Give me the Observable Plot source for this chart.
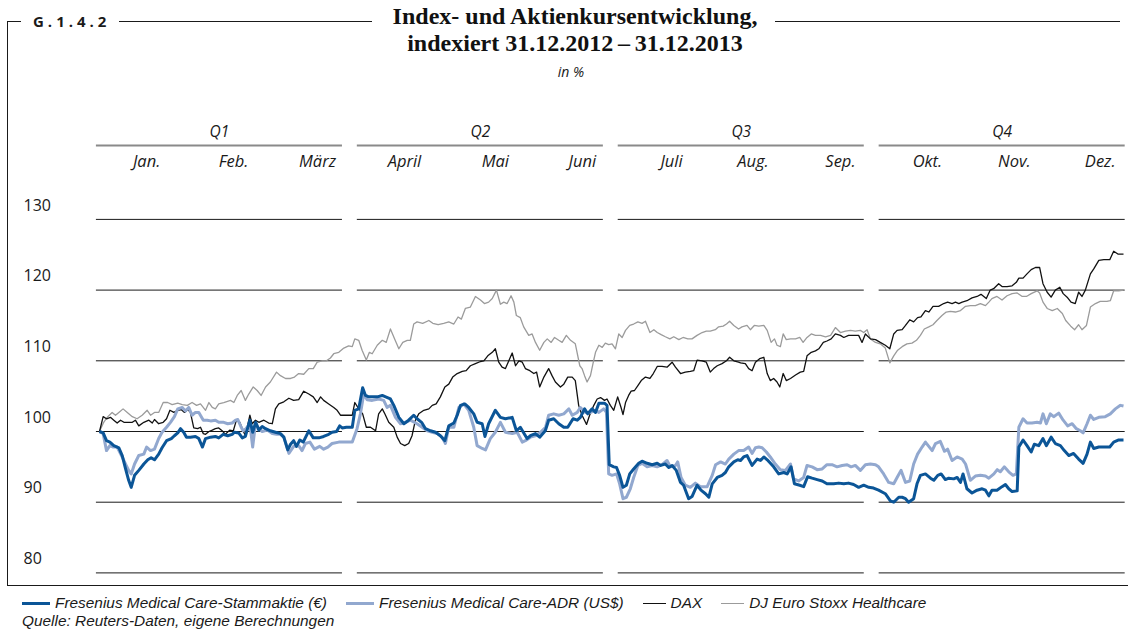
<!DOCTYPE html>
<html><head><meta charset="utf-8">
<script src="https://cdn.jsdelivr.net/npm/d3@7"></script>
<script src="https://cdn.jsdelivr.net/npm/@observablehq/plot@0.6"></script>
<style>
body{margin:0;background:#fff;}
#wrap{position:relative;width:1128px;height:630px;overflow:hidden;background:#fff;font-family:'Open Sans',sans-serif;color:#1a1a1a;}
.hl{position:absolute;height:0;border-top:1px solid #1a1a1a;}
#glabel{position:absolute;left:33px;top:11px;font-family:'Open Sans',sans-serif;font-weight:700;font-size:15px;line-height:20px;letter-spacing:4px;color:#1a1a1a;}
#title{position:absolute;left:325px;width:500px;top:3px;text-align:center;font-family:'Liberation Serif',serif;font-weight:700;font-size:24px;line-height:27px;color:#111;}
#unit{position:absolute;left:471px;width:200px;top:62px;text-align:center;font-style:italic;font-size:14px;line-height:20px;}
#chart{position:absolute;left:0;top:110px;}
#legend{position:absolute;left:22px;top:594px;height:18px;display:flex;align-items:center;font-family:'Liberation Sans',Arial,sans-serif;font-style:italic;font-size:15.4px;line-height:18px;white-space:nowrap;}
#legend .item{display:flex;align-items:center;margin-right:19px;}
#legend .sw{display:inline-block;width:28px;height:0;margin-right:5px;}
#source{position:absolute;left:22px;top:612px;font-family:'Liberation Sans',Arial,sans-serif;font-style:italic;font-size:15.4px;line-height:18px;white-space:nowrap;}
</style></head><body>
<div id="wrap">
 <div class="hl" style="left:7px;top:21px;width:14px"></div>
 <div id="glabel">G.1.4.2</div>
 <div class="hl" style="left:119px;top:21px;width:253px"></div>
 <div class="hl" style="left:775px;top:21px;width:345px"></div>
 <div style="position:absolute;left:7px;top:21px;height:564px;border-left:1px solid #1a1a1a"></div>
 <div class="hl" style="left:7px;top:585px;width:1121px"></div>
 <div id="title">Index- und Aktienkursentwicklung,<br>indexiert 31.12.2012&#8201;–&#8201;31.12.2013</div>
 <div id="unit">in %</div>
 <div id="chart"></div>
 <div id="legend"></div>
 <div id="source">Quelle: Reuters-Daten, eigene Berechnungen</div>
</div>
<script>
// Quarter header & month labels (positions in days of 2013 on the chart's day axis)
const quarters = ["Q1", "Q2", "Q3", "Q4"];
const quarterStart = [-1.1, 91.9, 184.9, 277.9];
const quarterEnd = [86.6, 179.6, 272.6, 365.6];
const months = ["Jan.", "Feb.", "März", "April", "Mai", "Juni", "Juli", "Aug.", "Sep.", "Okt.", "Nov.", "Dez."];
const monthDay = [16.8, 47.8, 77.7, 108.7, 141.1, 172.1, 203.9, 232.9, 264.1, 295.1, 326.1, 356.7];
const yTicks = [130, 120, 110, 100, 90, 80];

const seriesNames = ["Fresenius Medical Care-Stammaktie (€)", "Fresenius Medical Care-ADR (US$)", "DAX", "DJ Euro Stoxx Healthcare"];
const seriesColors = ["#0b5597", "#92a8cf", "#111111", "#9b9b9b"];
const seriesWidths = [3, 3, 1.3, 1.3];

// [day, index value]
const fmeStamm = [[0,100],[1.3,99.8],[2.5,98.7],[3.7,98.5],[5.1,98.0],[6.9,97.7],[8.1,96.6],[9.3,94.7],[10.4,93.1],[11.3,92.1],[12.5,93.8],[14.0,94.5],[15.8,95.4],[17.2,96.0],[18.4,96.3],[19.6,96.0],[21.1,96.8],[22.3,97.7],[23.9,98.7],[25.6,99.0],[26.7,99.4],[27.9,99.8],[28.9,100.4],[30.0,99.9],[31.0,99.2],[32.4,99.2],[34.2,99.3],[35.4,99.0],[36.7,97.8],[37.8,99.0],[39.6,99.2],[41.3,99.3],[42.5,99.1],[44.1,99.6],[45.7,99.4],[47.3,99.6],[48.1,99.9],[49.6,99.8],[50.9,99.1],[52.0,99.3],[53.6,101.6],[54.6,99.9],[55.7,101.3],[56.8,100.2],[58.0,100.7],[59.2,100.4],[60.9,100.1],[62.7,99.9],[64.5,99.7],[65.7,99.2],[67.1,97.4],[68.1,98.2],[69.2,98.7],[70.2,97.9],[71.4,98.8],[72.6,98.5],[74.6,100.1],[76.2,99.1],[78.2,99.1],[79.9,99.3],[81.7,99.6],[82.9,99.9],[84.5,100.0],[85.6,100.8],[86.5,100.5],[88.0,100.6],[90.1,100.6],[91.0,103.0],[92.4,103.2],[93.8,106.2],[94.8,105.1],[96.0,104.9],[99.0,104.9],[100.8,105.1],[102.0,104.9],[103.7,104.6],[104.9,103.7],[106.7,102.0],[108.5,101.1],[110.2,101.6],[112.0,102.3],[113.2,101.8],[114.8,101.3],[116.2,100.4],[118.0,100.1],[119.8,99.9],[121.5,99.4],[123.1,98.7],[124.5,100.8],[126.3,101.2],[127.5,102.3],[128.7,103.7],[130.2,103.9],[131.6,103.4],[133.4,102.5],[134.6,101.3],[136.4,101.1],[137.4,99.3],[138.7,101.1],[141.1,103.0],[142.9,102.0],[144.7,101.8],[147.1,102.0],[148.6,100.1],[150.0,100.6],[152.4,99.0],[153.6,99.4],[155.4,99.7],[156.9,99.2],[158.9,100.1],[160.1,101.6],[161.9,101.8],[163.7,101.1],[165.5,100.6],[166.9,100.6],[168.8,101.8],[170.3,101.6],[171.4,102.0],[172.9,103.2],[174.0,102.5],[175.6,103.2],[176.8,102.7],[178.0,104.0],[180.0,104.0],[180.9,103.7],[181.7,95.3],[183.3,95.0],[184.3,94.9],[185.4,93.8],[186.6,92.1],[187.8,92.4],[189.0,94.0],[190.4,94.7],[192.2,95.5],[193.4,95.8],[195.2,95.5],[197.0,95.3],[198.8,95.5],[200.0,95.2],[201.7,95.4],[202.9,94.9],[204.1,95.2],[205.6,94.5],[207.1,92.8],[208.2,92.4],[210.0,90.5],[211.2,90.8],[213.0,92.4],[214.4,91.7],[216.0,91.2],[217.2,90.7],[218.4,92.6],[220.2,93.5],[221.9,93.8],[223.1,94.2],[224.3,95.0],[226.1,95.7],[227.5,96.0],[228.5,95.9],[229.6,96.4],[230.8,96.6],[232.6,95.2],[234.4,96.1],[235.6,95.9],[236.8,96.4],[238.0,96.0],[240.3,95.0],[242.1,94.0],[243.9,94.2],[245.1,94.0],[246.5,95.0],[247.7,92.6],[249.6,92.4],[251.0,92.2],[252.4,93.6],[254.0,93.4],[255.8,93.2],[257.6,93.0],[259.3,92.6],[261.7,92.6],[263.5,92.7],[265.3,92.6],[267.0,92.7],[268.8,92.5],[270.6,92.1],[272.4,92.4],[274.2,92.1],[275.9,92.0],[277.7,91.7],[280.1,91.2],[281.9,90.2],[283.1,90.0],[284.9,90.7],[286.1,90.7],[287.3,90.5],[288.4,90.0],[290.2,90.5],[291.4,92.6],[292.6,93.8],[294.4,94.0],[296.2,93.4],[297.4,93.1],[298.8,93.8],[300.0,94.0],[301.5,93.2],[302.7,93.4],[304.5,93.3],[305.7,93.5],[306.9,92.8],[307.8,94.0],[309.2,91.9],[311.0,91.3],[312.8,91.7],[314.6,91.9],[315.8,91.7],[317.0,90.9],[318.1,91.7],[319.9,91.7],[321.7,92.2],[322.9,92.5],[324.1,91.9],[325.3,91.5],[327.1,91.6],[327.7,97.8],[329.2,98.8],[330.6,98.0],[332.1,97.1],[333.2,98.2],[334.8,98.0],[336.3,99.0],[337.5,98.0],[339.2,99.2],[340.7,98.3],[342.5,98.0],[343.9,97.3],[345.5,96.6],[347.2,96.9],[349.0,96.1],[350.6,95.5],[352.0,96.8],[353.2,98.5],[354.4,97.6],[356.2,97.8],[358.0,97.8],[360.1,97.8],[361.5,98.5],[363.3,98.8],[365,98.8]];

const fmeAdr = [[0,100],[1.3,99.7],[2.5,97.3],[3.7,98.0],[4.9,97.8],[6.3,97.8],[8.1,96.4],[9.3,95.4],[10.4,94.5],[11.3,94.0],[12.5,95.4],[14.0,96.6],[15.8,96.8],[16.8,97.8],[18.2,97.3],[19.6,97.5],[21.1,99.0],[22.3,99.9],[23.9,100.6],[25.3,101.3],[26.7,102.1],[27.9,103.2],[29.5,103.4],[30.6,102.9],[31.8,103.4],[33.0,102.3],[34.2,102.7],[35.4,102.7],[37.0,101.6],[38.4,101.6],[39.6,101.5],[41.3,101.6],[42.5,101.3],[44.3,101.3],[45.7,101.1],[47.3,101.2],[48.5,101.6],[49.3,101.7],[50.5,100.6],[51.2,100.1],[52.0,100.3],[53.6,101.1],[54.6,97.8],[55.6,101.1],[56.8,100.4],[58.0,100.0],[59.8,100.2],[61.6,99.7],[63.1,99.6],[64.5,99.6],[65.7,99.2],[67.5,96.9],[69.2,97.9],[71.0,98.0],[72.2,97.3],[73.4,98.3],[75.0,98.5],[76.6,97.5],[78.5,97.9],[79.9,97.5],[81.4,97.8],[82.9,98.3],[85.3,98.5],[87.7,98.5],[90.1,98.5],[91.8,100.4],[93.0,102.5],[94.2,105.3],[95.4,104.5],[97.2,104.4],[99.5,104.6],[101.3,104.4],[102.5,103.4],[103.7,103.7],[105.5,102.0],[107.3,101.1],[109.1,101.3],[110.8,101.6],[113.2,101.1],[115.0,100.6],[116.8,100.1],[118.6,99.9],[120.4,99.7],[122.1,99.2],[123.3,98.3],[124.5,100.6],[126.3,100.6],[128.1,103.4],[129.8,103.9],[131.6,103.0],[133.4,100.6],[134.6,98.0],[136.4,97.6],[137.6,97.4],[139.3,99.0],[141.1,99.9],[142.9,101.3],[144.7,99.9],[147.1,99.7],[148.9,99.9],[150.7,98.5],[151.8,98.7],[153.6,99.2],[155.4,99.4],[157.2,99.9],[159.0,100.6],[160.1,102.3],[161.9,102.5],[163.7,102.3],[165.5,102.5],[167.3,103.2],[168.5,102.3],[170.3,102.7],[171.4,103.4],[173.2,102.7],[175.0,102.7],[176.8,103.0],[178.0,102.7],[179.7,103.2],[180.7,102.7],[181.5,94.0],[182.7,93.8],[184.3,94.0],[185.4,92.6],[186.6,90.5],[187.8,90.7],[189.2,91.9],[190.4,93.5],[191.9,95.2],[193.4,95.5],[195.2,95.0],[197.0,95.2],[198.8,95.0],[200.5,95.3],[202.3,95.9],[203.5,95.0],[205.3,95.2],[206.1,95.7],[207.3,93.5],[208.8,92.4],[210.6,92.1],[212.4,92.7],[214.2,92.2],[216.6,92.2],[218.4,93.8],[219.6,95.3],[221.4,95.7],[223.1,95.4],[224.3,96.1],[226.1,96.8],[227.8,97.3],[229.6,97.3],[231.4,97.8],[232.6,96.9],[233.8,97.7],[235.0,97.8],[236.2,97.7],[237.7,97.1],[239.1,96.4],[240.9,95.4],[242.7,94.6],[244.5,94.5],[246.3,95.4],[247.4,93.3],[249.2,93.0],[251.0,93.5],[252.2,95.2],[254.0,95.0],[255.8,94.6],[257.6,94.7],[259.3,95.3],[261.1,95.3],[262.9,95.0],[264.7,95.2],[266.5,95.3],[267.9,95.0],[269.4,95.2],[271.2,94.5],[273.0,95.3],[274.8,95.4],[276.6,95.3],[277.7,95.0],[279.5,94.0],[281.3,92.8],[283.1,92.6],[284.3,93.5],[285.7,94.5],[287.3,92.8],[288.8,93.0],[290.2,95.4],[291.6,96.8],[293.2,97.8],[294.4,98.5],[295.6,97.9],[296.8,97.3],[298.0,98.3],[299.7,98.6],[301.2,97.2],[302.3,97.5],[303.9,95.9],[305.7,96.4],[307.5,96.1],[308.7,95.4],[310.4,93.1],[312.2,93.7],[314.0,93.8],[315.8,93.7],[317.0,93.4],[318.8,94.0],[320.0,94.6],[321.1,94.3],[322.5,95.0],[324.1,94.3],[325.6,93.8],[326.8,94.0],[327.7,100.6],[329.2,101.8],[330.6,101.2],[332.4,101.2],[334.2,101.3],[335.4,101.2],[336.3,102.5],[337.5,101.1],[338.9,102.5],[340.1,102.1],[341.9,102.6],[343.5,101.6],[345.1,100.8],[346.7,101.1],[348.2,100.4],[349.6,100.1],[350.6,99.8],[352.0,101.1],[353.2,102.3],[354.4,101.7],[356.2,102.0],[358.5,102.1],[360.3,102.5],[362.1,103.2],[363.9,103.7],[365,103.6]];

const dax = [[0,100],[1.3,102.1],[2.5,101.8],[3.9,102.0],[5.1,101.6],[6.3,101.2],[7.5,101.6],[8.7,101.3],[11.7,101.3],[12.8,101.6],[14.0,100.8],[15.8,101.3],[17.6,101.6],[18.8,101.2],[19.6,101.7],[21.1,101.1],[22.7,101.3],[23.9,101.8],[25.1,103.0],[26.5,102.7],[27.9,103.0],[29.1,103.1],[30.3,102.7],[31.5,103.1],[32.4,102.7],[33.0,101.6],[33.6,100.5],[35.0,100.4],[36.0,100.6],[37.0,99.7],[37.8,99.6],[39.0,100.0],[40.2,100.2],[41.3,100.4],[42.5,100.5],[43.7,100.1],[44.9,99.6],[46.4,100.2],[47.7,100.1],[48.8,101.6],[50.0,101.3],[51.2,100.1],[52.0,99.4],[53.6,102.3],[54.4,101.1],[55.6,101.6],[56.8,101.3],[58.6,101.6],[60.3,101.2],[61.6,101.1],[62.7,103.2],[63.9,103.9],[65.7,104.2],[67.5,104.7],[69.2,104.4],[71.0,104.5],[72.8,105.7],[74.6,105.3],[76.2,104.9],[77.6,104.1],[78.8,104.9],[79.9,104.4],[81.7,103.9],[83.5,103.4],[84.7,103.0],[85.9,102.3],[87.7,102.3],[90.1,102.3],[91.0,104.1],[92.4,103.2],[93.8,102.5],[95.1,100.6],[96.6,100.6],[98.4,100.1],[99.5,102.5],[100.8,103.2],[101.7,102.5],[103.1,101.3],[104.9,100.6],[106.1,99.2],[107.3,98.3],[108.8,98.0],[110.2,98.3],[111.4,99.4],[112.6,101.6],[113.8,102.5],[115.6,103.0],[117.4,103.2],[118.6,103.7],[120.0,103.9],[121.5,104.9],[123.1,106.3],[124.5,106.7],[125.9,107.7],[127.5,108.2],[129.3,108.5],[130.7,108.6],[132.2,109.3],[134.0,109.6],[135.8,109.9],[137.0,110.0],[138.4,110.7],[140.0,111.2],[141.1,111.7],[142.3,109.8],[143.5,109.1],[144.7,108.9],[145.9,110.0],[147.1,111.1],[148.3,109.3],[149.5,110.0],[150.7,109.8],[151.8,108.9],[153.4,108.6],[154.8,108.2],[155.8,108.4],[156.9,106.3],[158.4,107.7],[160.1,108.9],[161.3,107.9],[162.5,107.0],[164.3,106.3],[165.5,106.7],[166.9,107.7],[168.5,107.7],[169.6,107.2],[170.8,103.7],[172.0,102.3],[173.6,101.0],[174.7,102.3],[176.2,103.7],[177.4,104.6],[178.6,104.8],[180.0,104.4],[180.9,104.6],[182.1,103.7],[183.3,103.0],[184.7,104.9],[185.9,103.4],[186.6,102.4],[187.5,104.1],[188.6,105.1],[189.5,105.7],[190.7,105.8],[191.9,106.5],[193.1,107.2],[194.6,107.7],[196.2,107.5],[197.4,108.2],[198.8,109.2],[200.5,109.2],[202.3,109.1],[204.1,109.8],[205.3,109.1],[207.1,108.2],[208.8,108.4],[210.6,108.5],[211.8,108.6],[213.0,110.1],[214.8,110.0],[216.3,109.8],[217.7,108.4],[218.9,108.9],[220.2,109.3],[221.9,109.6],[223.5,110.0],[224.6,110.5],[226.1,110.0],[227.8,109.8],[228.5,109.7],[230.2,109.6],[231.4,108.9],[232.6,108.6],[233.8,109.8],[235.3,110.3],[236.8,110.5],[238.0,108.2],[239.1,107.2],[240.3,107.5],[241.5,107.0],[242.5,106.3],[243.7,108.2],[244.8,107.2],[246.3,107.5],[248.1,108.0],[249.8,108.4],[251.0,108.5],[252.2,110.7],[253.7,111.2],[255.2,111.4],[256.4,111.7],[258.0,112.6],[259.3,112.8],[260.8,113.1],[262.3,113.8],[264.1,113.6],[265.3,113.3],[267.0,113.6],[268.8,113.6],[270.6,113.6],[271.8,112.6],[273.0,113.8],[274.8,113.1],[276.6,113.0],[278.3,112.6],[280.1,112.2],[281.7,111.7],[283.1,113.8],[284.3,114.3],[286.1,114.4],[287.3,115.0],[288.8,115.8],[290.2,115.5],[291.6,116.1],[292.8,116.2],[294.4,117.1],[295.6,116.9],[297.1,117.7],[299.1,117.7],[300.9,118.1],[302.3,118.3],[303.9,118.1],[305.1,118.3],[306.3,118.1],[307.5,118.3],[309.2,118.5],[311.0,118.9],[312.8,119.1],[314.2,119.4],[316.1,118.8],[317.5,120.0],[318.7,120.2],[320.5,120.9],[321.7,120.5],[323.5,120.5],[325.3,120.6],[326.8,121.1],[327.7,121.7],[329.2,121.7],[330.6,122.3],[332.1,122.9],[333.6,123.2],[335.1,123.2],[336.3,120.9],[337.8,119.7],[339.2,119.0],[340.7,120.0],[342.3,120.4],[343.5,119.5],[344.9,119.0],[346.3,118.3],[347.8,118.1],[349.0,119.7],[350.2,119.1],[351.4,120.0],[353.2,122.3],[354.4,123.0],[356.2,124.2],[358.0,124.3],[360.1,124.3],[361.5,125.5],[363.0,125.1],[365,125.1]];

const stoxx = [[0,100],[1.5,101.3],[2.7,102.0],[4.5,102.7],[5.7,102.3],[6.9,102.7],[8.4,103.2],[9.9,102.7],[11.7,102.1],[13.4,101.8],[15.2,102.3],[17.0,103.0],[18.2,102.3],[19.6,102.7],[21.1,102.7],[22.7,104.1],[24.3,104.1],[25.9,103.8],[27.9,104.0],[29.5,103.8],[31.3,103.7],[33.0,104.1],[34.6,103.7],[36.0,103.9],[37.8,103.0],[39.0,104.1],[40.2,103.4],[41.3,103.2],[42.5,103.9],[44.3,104.1],[46.7,104.4],[47.9,104.1],[49.1,105.1],[50.5,105.8],[52.0,104.4],[53.2,105.3],[54.8,106.3],[56.2,105.8],[57.6,105.1],[59.2,106.3],[60.9,107.0],[63.1,108.4],[64.5,107.9],[66.3,107.5],[68.1,107.5],[69.5,107.7],[71.0,108.2],[72.8,108.1],[74.6,108.9],[76.2,108.9],[77.6,109.8],[79.4,110.0],[80.9,110.0],[82.3,110.4],[83.5,111.0],[85.3,111.2],[87.1,111.8],[88.8,112.1],[90.1,112.0],[91.0,113.1],[92.4,112.9],[93.6,111.5],[95.1,110.1],[96.2,111.2],[97.2,111.0],[99.0,112.2],[100.8,112.9],[102.2,112.6],[103.7,114.5],[105.2,113.1],[106.7,111.7],[108.1,112.6],[109.7,112.9],[110.8,112.9],[112.0,115.2],[113.2,115.5],[115.2,115.3],[117.4,115.7],[118.8,115.3],[120.7,115.1],[122.7,115.3],[124.5,115.5],[126.3,115.2],[127.8,116.2],[129.0,115.9],[130.4,117.4],[132.2,117.6],[134.0,119.1],[135.8,118.6],[137.2,118.1],[138.7,118.3],[140.0,118.8],[141.5,120.0],[142.9,118.0],[144.1,118.3],[145.3,118.1],[146.7,119.2],[147.7,118.3],[148.6,116.4],[150.0,116.1],[151.2,114.8],[153.0,113.6],[154.2,113.8],[155.4,112.6],[156.9,111.5],[158.4,112.6],[159.6,113.1],[161.0,112.6],[162.2,113.3],[163.7,112.9],[164.9,112.6],[166.4,113.6],[167.9,112.9],[169.6,112.4],[171.2,109.3],[172.0,108.9],[172.9,107.9],[173.8,107.0],[175.0,107.9],[175.9,109.6],[176.8,111.2],[178.0,112.2],[179.2,111.9],[180.3,112.5],[181.5,112.3],[182.7,112.4],[183.9,111.7],[185.1,113.8],[186.3,113.3],[187.5,114.3],[189.0,115.0],[190.4,115.2],[191.9,115.5],[193.4,115.3],[194.6,115.6],[196.2,114.0],[197.6,114.4],[198.8,114.0],[200.2,113.7],[201.7,113.4],[203.3,113.1],[204.7,113.4],[206.5,113.0],[208.0,113.3],[209.7,113.1],[211.2,113.1],[213.0,113.6],[214.8,114.0],[216.3,114.2],[217.7,114.2],[219.5,114.4],[220.7,114.8],[222.3,114.9],[223.5,115.2],[224.6,115.6],[226.1,115.0],[227.8,114.5],[229.0,114.8],[230.8,115.0],[232.0,114.4],[233.4,115.0],[235.0,114.9],[236.8,115.0],[238.0,114.3],[239.4,112.6],[240.6,113.1],[241.5,112.2],[242.7,112.0],[243.7,113.8],[244.8,113.0],[246.3,113.1],[248.1,113.1],[249.6,113.3],[250.8,112.6],[252.2,113.3],[253.7,113.8],[255.2,113.6],[257.0,113.6],[258.8,113.4],[260.6,113.6],[262.3,114.7],[264.1,114.0],[265.9,114.2],[267.7,114.3],[269.4,114.2],[271.2,114.3],[272.4,114.0],[273.6,114.4],[274.8,113.1],[276.6,112.6],[278.3,112.4],[280.1,111.8],[281.7,109.7],[283.1,110.7],[284.5,111.5],[286.1,112.0],[287.8,112.4],[289.6,112.5],[291.2,112.9],[292.6,113.6],[294.0,114.5],[295.6,114.8],[297.1,115.1],[298.5,115.7],[300.3,116.4],[301.8,116.9],[303.3,117.0],[305.1,116.9],[306.9,117.1],[308.7,117.7],[310.4,117.8],[312.2,117.8],[314.0,118.1],[315.8,117.8],[317.0,118.3],[318.1,118.8],[319.9,119.1],[321.7,118.6],[323.5,119.2],[325.3,119.5],[327.1,119.6],[328.9,119.1],[330.4,119.1],[332.1,119.5],[334.2,119.9],[335.1,119.6],[336.3,118.3],[337.8,117.4],[339.6,117.1],[341.4,117.4],[343.2,116.7],[344.4,115.7],[346.2,114.9],[347.6,114.4],[349.0,115.1],[350.2,114.4],[351.8,115.0],[353.2,117.6],[355.0,118.1],[356.7,118.4],[359.1,118.4],[360.3,118.5],[361.5,119.9],[363.3,119.9],[365,120.0]];

const seriesData = [fmeStamm, fmeAdr, dax, stoxx];

const gridRows = yTicks.flatMap(v => quarters.map((q, i) => ({v, x1: quarterStart[i], x2: quarterEnd[i]})));
const qRows = quarters.map((q, i) => ({q, x1: quarterStart[i], x2: quarterEnd[i], mid: (quarterStart[i] + quarterEnd[i]) / 2}));
const mRows = months.map((m, i) => ({m, d: monthDay[i]}));

const lineMark = (k) => Plot.line(seriesData[k], {
  x: d => d[0], y: d => d[1],
  stroke: seriesColors[k], strokeWidth: seriesWidths[k],
  strokeLinejoin: "round", strokeLinecap: "butt"
});

const plot = Plot.plot({
  width: 1128,
  height: 475,
  marginLeft: 99,
  marginRight: 5,
  marginTop: 108.9,
  marginBottom: 12.6,
  x: {domain: [0, 365], axis: null},
  y: {domain: [80, 130], axis: null},
  style: {fontFamily: "'Open Sans', sans-serif", fontSize: "15px", color: "#1a1a1a", background: "transparent", overflow: "visible"},
  marks: [
    Plot.ruleY(gridRows, {y: "v", x1: "x1", x2: "x2", stroke: "#1a1a1a", strokeWidth: 1}),
    Plot.text(yTicks, {y: d => d, text: d => String(d), frameAnchor: "left", dx: -76, dy: -14, textAnchor: "start", lineAnchor: "middle", fontSize: 16, fill: "#1a1a1a"}),
    Plot.ruleY(qRows, {y: () => 130, x1: "x1", x2: "x2", dy: -74, stroke: "#8a8a8a", strokeWidth: 2}),
    Plot.text(qRows, {x: "mid", text: "q", frameAnchor: "top", lineAnchor: "middle", dy: -87.5, fontStyle: "italic", fontSize: 15.5, fill: "#1a1a1a"}),
    Plot.text(mRows, {x: "d", text: "m", frameAnchor: "top", lineAnchor: "middle", dy: -58, fontStyle: "italic", fontSize: 16.5, fill: "#1a1a1a"}),
    lineMark(3),
    lineMark(2),
    lineMark(1),
    lineMark(0)
  ]
});
document.getElementById("chart").appendChild(plot);

// Legend
const legend = d3.select("#legend");
seriesNames.forEach((name, k) => {
  const it = legend.append("div").attr("class", "item");
  it.append("span").attr("class", "sw")
    .style("border-top", `${seriesWidths[k] > 2 ? 3 : 1.5}px solid ${seriesColors[k]}`)
    .style("width", seriesWidths[k] > 2 ? "28px" : "23px");
  it.append("span").text(name);
});
</script>
</body></html>
